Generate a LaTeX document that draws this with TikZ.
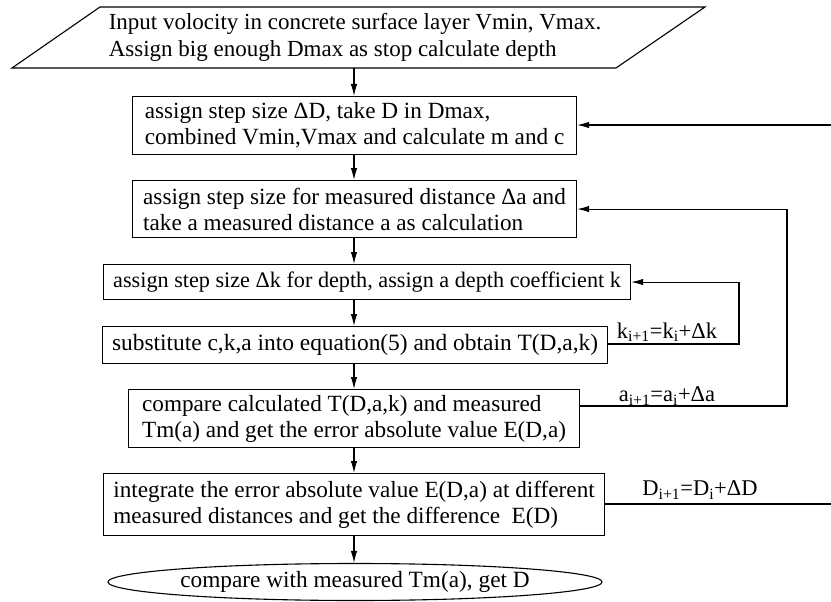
\documentclass[tikz,border=0pt]{standalone}
\usepackage{fontspec}
\setmainfont{Liberation Serif}
\usetikzlibrary{arrows.meta,shapes.geometric,calc}
\begin{document}
\begin{tikzpicture}[x=1pt,y=-1pt,
  every node/.style={font=\fontsize{23.2}{26}\selectfont},
  stepbox/.style={draw,line width=1.1pt,rectangle,align=left,inner xsep=2pt,inner ysep=0pt,anchor=north west},
  arr/.style={-{Latex[length=12pt,width=6.5pt]},line width=1.1pt},
  conn/.style={line width=1.1pt},
  lbl/.style={inner sep=0pt,font=\fontsize{22.5}{26}\selectfont}]
\useasboundingbox (0,0) rectangle (831,602);

% input parallelogram
\node[align=left,inner sep=0pt,font=\fontsize{23}{27}\selectfont] (in) at (355,37)
  {Input volocity in concrete surface layer Vmin, Vmax.\\Assign big enough Dmax as stop calculate depth};
\draw[conn] (100,7) -- (705,7) -- (616,68) -- (12,68) -- cycle;
\coordinate (inb) at (354,68);

% process boxes
\node[stepbox,minimum width=444,minimum height=58] (b2) at (132,96)
  {assign step size ΔD, take D in Dmax,\\combined Vmin,Vmax and calculate m and c};
\node[stepbox,minimum width=444,minimum height=57] (b3) at (132,180)
  {assign step size for measured distance Δa and\\take a measured distance a as calculation};
\node[stepbox,minimum width=527,minimum height=35,font=\fontsize{22.2}{26}\selectfont] (b4) at (103,264)
  {assign step size Δk for depth, assign a depth coefficient k};
\node[stepbox,minimum width=505,minimum height=37,font=\fontsize{23.4}{26}\selectfont] (b5) at (102,326)
  {substitute c,k,a into equation(5) and obtain T(D,a,k)};
\node[stepbox,minimum width=451,minimum height=58] (b6) at (128,389)
  {compare calculated T(D,a,k) and measured\\Tm(a) and get the error absolute value E(D,a)};
\node[stepbox,minimum width=501,minimum height=62] (b7) at (103,473)
  {integrate the error absolute value E(D,a) at different\\measured distances and get the difference\ \ E(D)};
\node[draw,ellipse,line width=1.1pt,minimum width=433,minimum height=37,inner sep=0pt,font=\fontsize{23.3}{26}\selectfont] (end) at (355,582)
  {compare with measured Tm(a), get D};

% main flow
\draw[arr] (inb) -- (inb |- b2.north);
\draw[arr] (b2.south -| inb) -- (b3.north -| inb);
\draw[arr] (b3.south -| inb) -- (b4.north -| inb);
\draw[arr] (b4.south -| inb) -- (b5.north -| inb);
\draw[arr] (b5.south -| inb) -- (b6.north -| inb);
\draw[arr] (b6.south -| inb) -- (b7.north -| inb);
\draw[arr] (b7.south -| inb) -- (end.north -| inb);

% depth coefficient loop
\coordinate (ck) at (739,344);
\draw[arr] (b5.east |- ck) -- (ck) |- (b4.east);
\node[lbl] (lk) at (667,332) {k\textsubscript{i+1}=k\textsubscript{i}+Δk};

% measured distance loop
\coordinate (ca) at (787,406);
\draw[arr] (b6.east |- ca) -- (ca) |- (b3.east);
\node[lbl] (la) at (667,396) {a\textsubscript{i+1}=a\textsubscript{i}+Δa};

% depth step loop
\coordinate (cdo) at (831,504);
\coordinate (cdi) at (831,125);
\draw[conn] (b7.east |- cdo) -- (cdo);
\draw[arr] (cdi) -- (cdi -| b2.east);
\node[lbl] (ld) at (700,490) {D\textsubscript{i+1}=D\textsubscript{i}+ΔD};
\end{tikzpicture}
\end{document}
